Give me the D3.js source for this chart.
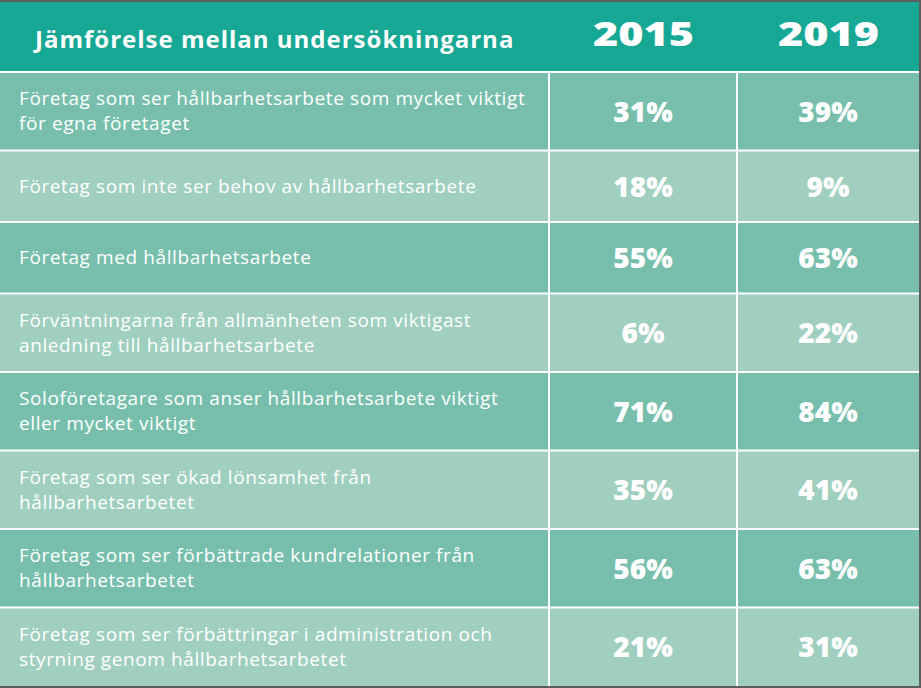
<!DOCTYPE html>
<html><head><meta charset="utf-8">
<script src="https://cdn.jsdelivr.net/npm/d3@7"></script>
<style>html,body{margin:0;padding:0;background:#fff;overflow:hidden}svg{display:block}</style>
</head><body>
<svg id="c" width="921" height="688"></svg>
<script>
const title = "Jämförelse mellan undersökningarna";
const years = ["2015", "2019"];
const categories = [
  ["Företag som ser hållbarhetsarbete som mycket viktigt", "för egna företaget"],
  ["Företag som inte ser behov av hållbarhetsarbete"],
  ["Företag med hållbarhetsarbete"],
  ["Förväntningarna från allmänheten som viktigast", "anledning till hållbarhetsarbete"],
  ["Soloföretagare som anser hållbarhetsarbete viktigt", "eller mycket viktigt"],
  ["Företag som ser ökad lönsamhet från", "hållbarhetsarbetet"],
  ["Företag som ser förbättrade kundrelationer från", "hållbarhetsarbetet"],
  ["Företag som ser förbättringar i administration och", "styrning genom hållbarhetsarbetet"]
];
const values2015 = [31, 18, 55, 6, 71, 35, 56, 21];
const values2019 = [39, 9, 63, 22, 84, 41, 63, 31];

(function () {
const W = 921, H = 688;
const svg = d3.select("#c");
const C = {header: "#17a895", dark: "#77bfac", light: "#a0cfbf", edge: "#5a5f5e"};

const topY = 2, headerBottom = 72, bottomY = 686, rightX = 919;
const colEdges = [0, 549, 737, rightX];
const rowH = categories.map(c => c.length > 1 ? 78.6 : 71.5);
const sum = d3.sum(rowH);
const scaleY = d3.scaleLinear().domain([0, sum]).range([headerBottom, bottomY]);
let acc = 0;
const rows = categories.map((c, i) => {
  const y0 = scaleY(acc); acc += rowH[i]; const y1 = scaleY(acc);
  return {lines: c, v: [values2015[i], values2019[i]], y0, y1, i};
});

svg.append("rect").attr("width", W).attr("height", H).attr("fill", C.edge);
svg.append("rect").attr("x", 0).attr("y", topY).attr("width", rightX).attr("height", headerBottom - topY).attr("fill", C.header);

const g = svg.selectAll("g.row").data(rows).join("g").attr("class", "row");
g.append("rect").attr("x", 0).attr("y", d => d.y0).attr("width", rightX).attr("height", d => d.y1 - d.y0)
  .attr("fill", d => d.i % 2 === 0 ? C.dark : C.light);

svg.selectAll("line.h").data([headerBottom, ...rows.slice(1).map(r => r.y0)]).join("line")
  .attr("x1", 0).attr("x2", rightX).attr("y1", d => d).attr("y2", d => d)
  .attr("stroke", "#fff").attr("stroke-width", 2);
svg.selectAll("line.v").data(colEdges.slice(1, 3)).join("line")
  .attr("x1", d => d).attr("x2", d => d).attr("y1", headerBottom).attr("y2", bottomY)
  .attr("stroke", "#fff").attr("stroke-width", 2);

svg.append("text").attr("x", 35).attr("y", 48).text(title)
  .attr("fill", "#fff").attr("font-family", "'Open Sans', sans-serif").attr("font-weight", 700)
  .attr("font-size", 24).attr("letter-spacing", 1);
const colCenters = [(colEdges[1] + colEdges[2]) / 2, (colEdges[2] + colEdges[3]) / 2];
svg.selectAll("text.yr").data(years).join("text")
  .attr("x", (d, i) => colCenters[i] - 50).attr("y", 46).text(d => d)
  .attr("textLength", 101).attr("lengthAdjust", "spacingAndGlyphs")
  .attr("fill", "#fff").attr("font-family", "'Open Sans', sans-serif").attr("font-weight", 800)
  .attr("font-size", 34);

g.each(function(d) {
  const n = d.lines.length, lh = 25, cy = (d.y0 + d.y1) / 2;
  const t = d3.select(this).append("text").attr("fill", "#fff")
    .attr("font-family", "'Open Sans', sans-serif").attr("font-size", 19).attr("letter-spacing", 0.6);
  d.lines.forEach((ln, k) => {
    t.append("tspan").attr("x", 19).attr("y", cy + (k - (n - 1) / 2) * lh + 6.5).text(ln);
  });
  d3.select(this).selectAll("text.val").data(d.v).join("text").attr("class", "val")
    .attr("x", (v, k) => colCenters[k]).attr("y", cy + 10.5).attr("text-anchor", "middle")
    .text(v => v + "%").attr("fill", "#fff").attr("font-family", "'Open Sans', sans-serif")
    .attr("font-weight", 800).attr("font-size", 28);
});
})();
</script>
</body></html>
